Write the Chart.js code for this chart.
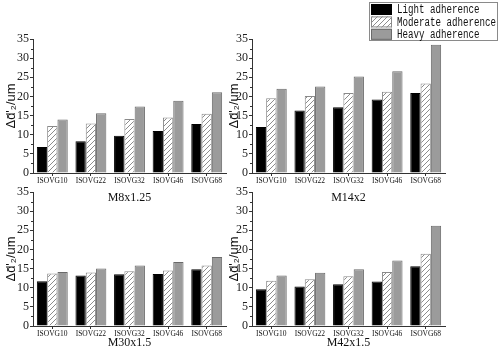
<!DOCTYPE html>
<html>
<head>
<meta charset="utf-8">
<script src="https://cdn.jsdelivr.net/npm/chart.js@4/dist/chart.umd.min.js"></script>
<style>
  body { margin: 0; background: #fff; width: 500px; height: 350px; position: relative; overflow: hidden; }
  canvas { position: absolute; }
</style>
</head>
<body>
<canvas id="m8" width="230" height="205" style="left:0;top:0"></canvas>
<canvas id="m14" width="281" height="205" style="left:219px;top:0"></canvas>
<canvas id="m30" width="230" height="175" style="left:0;top:175px"></canvas>
<canvas id="m42" width="230" height="175" style="left:219px;top:175px"></canvas>
<script>
// data
var grades = ["ISOVG10", "ISOVG22", "ISOVG32", "ISOVG46", "ISOVG68"];
var seriesNames = ["Light adherence", "Moderate adherence", "Heavy adherence"];
var yTitle = "\u0394d\u0304'\u2082/um";

var m8Light    = [6.8, 8.3, 9.7, 11.0, 12.8];
var m8Moderate = [12.3, 12.9, 14.1, 14.5, 15.5];
var m8Heavy    = [14.0, 15.6, 17.4, 18.9, 21.1];

var m14Light    = [12.0, 16.3, 17.2, 19.2, 20.9];
var m14Moderate = [19.5, 20.1, 20.9, 21.2, 23.4];
var m14Heavy    = [22.0, 22.6, 25.2, 26.6, 33.5];

var m30Light    = [11.7, 13.2, 13.5, 13.6, 14.8];
var m30Moderate = [13.7, 14.0, 14.3, 14.5, 15.8];
var m30Heavy    = [14.1, 15.0, 15.8, 16.7, 18.0];

var m42Light    = [9.6, 10.3, 10.9, 11.6, 15.6];
var m42Moderate = [11.8, 12.2, 13.0, 14.1, 18.9];
var m42Heavy    = [13.2, 13.9, 14.8, 17.1, 26.2];

// hatched fill for the moderate series
function makeHatch() {
  var c = document.createElement("canvas");
  c.width = 5; c.height = 5;
  var g = c.getContext("2d");
  g.fillStyle = "#fff";
  g.fillRect(0, 0, 5, 5);
  g.strokeStyle = "#8c8c8c";
  g.lineWidth = 1;
  g.beginPath();
  g.moveTo(-1, 6); g.lineTo(6, -1);
  g.moveTo(-1, 1); g.lineTo(1, -1);
  g.moveTo(4, 6); g.lineTo(6, 4);
  g.stroke();
  return g.createPattern(c, "repeat");
}
var hatch = makeHatch();

var minorTicks = {
  id: "minorTicks",
  afterDraw: function(chart) {
    var y = chart.scales.y, ctx = chart.ctx;
    ctx.save();
    ctx.strokeStyle = "#333";
    ctx.lineWidth = 1;
    ctx.beginPath();
    for (var v = 2.5; v < 35; v += 5) {
      var py = Math.round(y.getPixelForValue(v)) + 0.5;
      ctx.moveTo(y.right - 2, py);
      ctx.lineTo(y.right, py);
    }
    ctx.stroke();
    ctx.restore();
  }
};

var legendBox = {
  id: "legendBox",
  afterDraw: function(chart) {
    var ctx = chart.ctx, x0 = 150, y0 = 2;
    ctx.save();
    ctx.strokeStyle = "#8a8a8a";
    ctx.lineWidth = 1;
    ctx.strokeRect(x0 + 0.5, y0 + 0.5, 128, 38);
    chart.data.datasets.forEach(function(ds, i) {
      var y = y0 + 2 + i * 12.4;
      ctx.fillStyle = ds.backgroundColor;
      ctx.fillRect(x0 + 2, y, 21, 11);
      ctx.strokeStyle = ds.borderColor;
      ctx.strokeRect(x0 + 2.5, y + 0.5, 20, 10);
      ctx.fillStyle = "#111";
      ctx.font = '12px "Liberation Mono"';
      ctx.textBaseline = "middle";
      ctx.fillText(ds.label, x0 + 28, y + 6, ds.label.length * 5.5);
    });
    ctx.restore();
  }
};

function makePanel(id, title, light, moderate, heavy, lay) {
  var plugins = [minorTicks];
  if (lay.legend) plugins.push(legendBox);
  new Chart(document.getElementById(id), {
    type: "bar",
    data: {
      labels: grades,
      datasets: [
        { label: seriesNames[0], data: light, backgroundColor: "#000", borderColor: "#000", borderWidth: 1 },
        { label: seriesNames[1], data: moderate, backgroundColor: hatch, borderColor: "#8a8a8a", borderWidth: 1 },
        { label: seriesNames[2], data: heavy, backgroundColor: "#9b9b9b", borderColor: "#6a6a6a", borderWidth: 1 }
      ]
    },
    options: {
      responsive: false,
      animation: false,
      categoryPercentage: 0.8,
      barPercentage: 1.0,
      layout: { padding: { top: lay.padTop, right: lay.padRight, left: 0, bottom: 0 } },
      plugins: { legend: { display: false }, tooltip: { enabled: false } },
      scales: {
        x: {
          grid: { drawOnChartArea: false, offset: false, tickLength: 3, color: "#333" },
          border: { color: "#333" },
          ticks: { font: { family: "Liberation Serif", size: 7.5 }, color: "#111", padding: 1, maxRotation: 0, autoSkip: false },
          title: { display: true, text: title, font: { family: "Liberation Serif", size: 12 }, color: "#111", padding: 0 },
          afterFit: function(s) { s.height = lay.axisH; }
        },
        y: {
          min: 0,
          max: 35,
          ticks: { stepSize: 5, font: { family: "Liberation Serif", size: 12 }, color: "#222", padding: 1 },
          grid: { drawOnChartArea: false, tickLength: 3, color: "#333" },
          border: { color: "#333" },
          title: { display: true, text: yTitle, font: { family: "Liberation Sans", size: 13 }, color: "#111", padding: { top: lay.titlePad, bottom: 0 } },
          afterFit: function(s) { s.width = 33; }
        }
      }
    },
    plugins: plugins
  });
}

makePanel("m8", "M8x1.25", m8Light, m8Moderate, m8Heavy, { padTop: 39, padRight: 4, axisH: 32, titlePad: 4 });
makePanel("m14", "M14x2", m14Light, m14Moderate, m14Heavy, { padTop: 39, padRight: 55, axisH: 32, titlePad: 8, legend: true });
makePanel("m30", "M30x1.5", m30Light, m30Moderate, m30Heavy, { padTop: 17, padRight: 4, axisH: 24, titlePad: 4 });
makePanel("m42", "M42x1.5", m42Light, m42Moderate, m42Heavy, { padTop: 17, padRight: 4, axisH: 24, titlePad: 8 });
</script>
</body>
</html>
